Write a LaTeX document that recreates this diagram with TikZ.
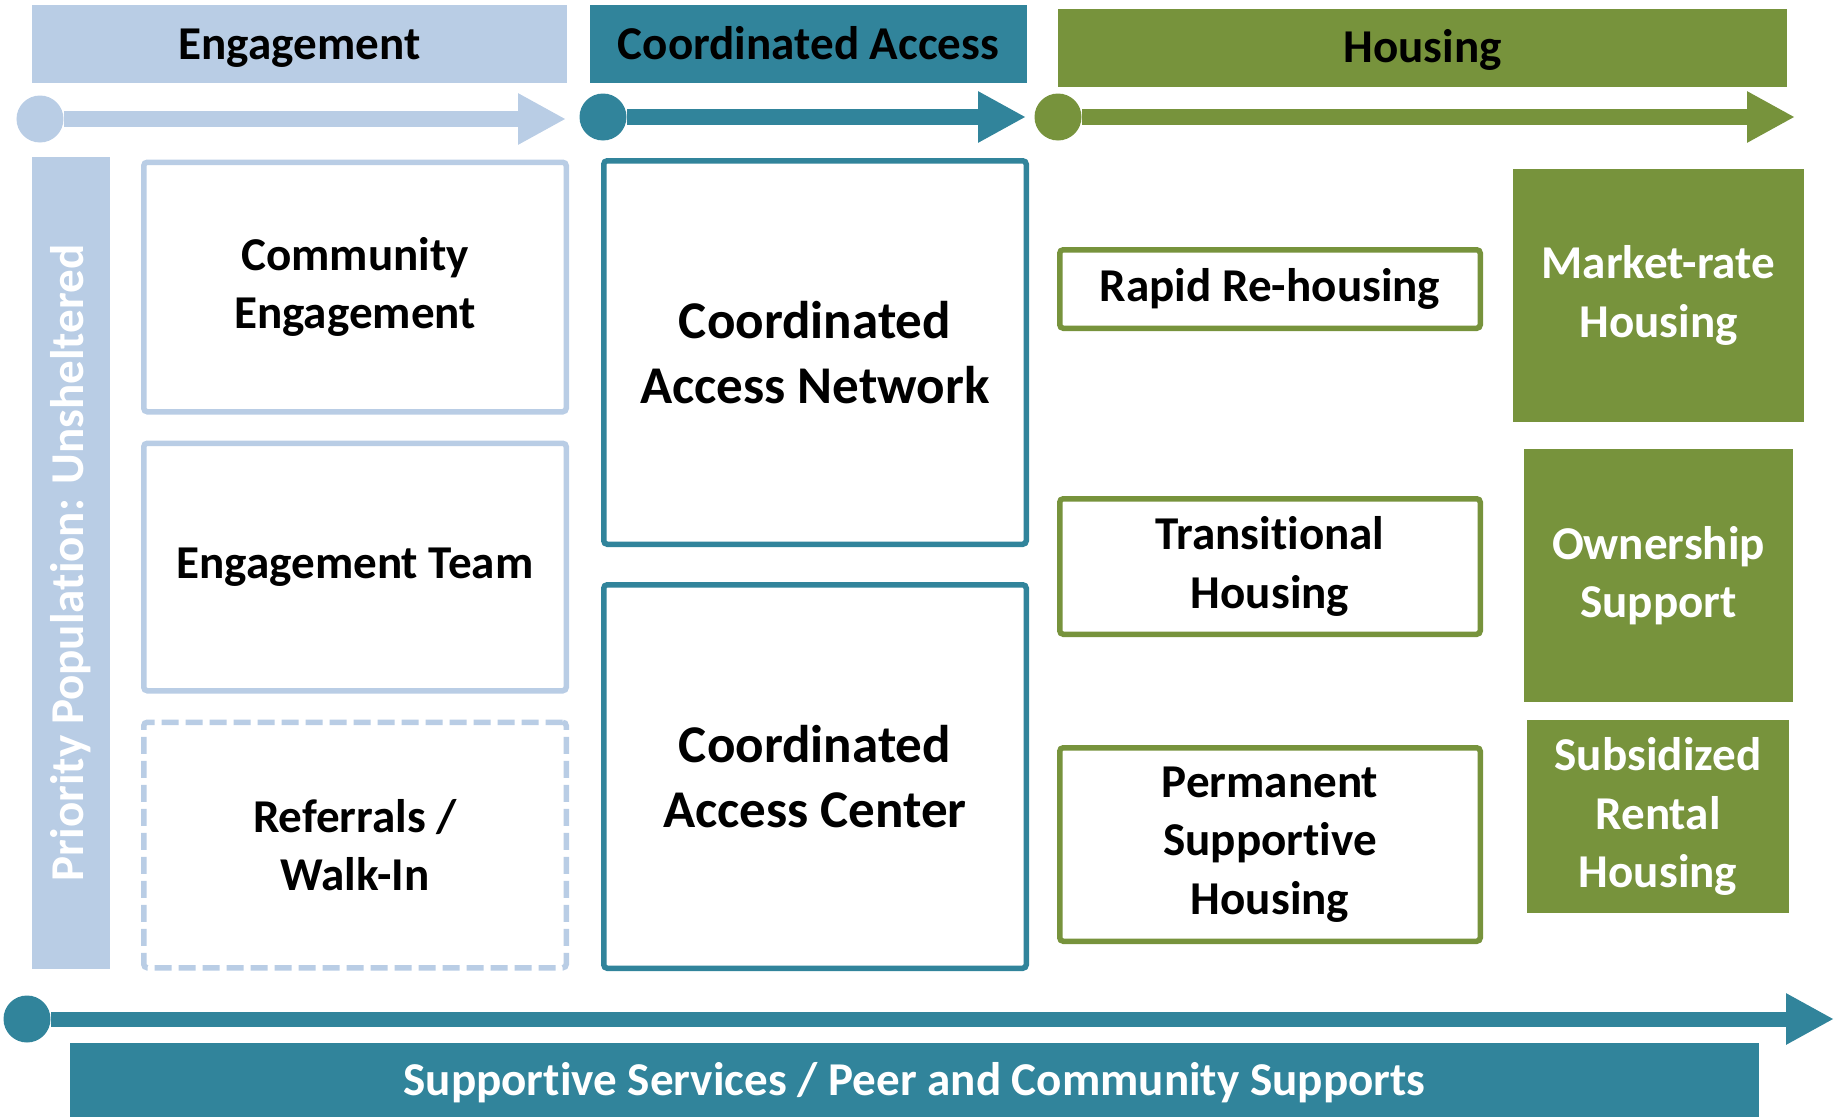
\documentclass[tikz,border=0pt]{standalone}
\usepackage{fontspec}
\setmainfont[Ligatures={NoCommon,NoContextual,NoRequired}, Contextuals=NoAlternate]{Carlito}
\usepackage{tikz}
\usetikzlibrary{
        positioning,
        arrows.meta
    }
\definecolor{engblue}{HTML}{B9CDE5}
\definecolor{accteal}{HTML}{31849B}
\definecolor{hougreen}{HTML}{77933C}

\begin{document}
\begin{tikzpicture}
[baseshape/.style={rectangle, inner sep=2pt, align=center, font=\bfseries\fontsize{13.4}{16.6}\selectfont},
header/.style={baseshape, minimum height=0.78cm, text height=0.38cm, text depth=0.08cm},
outline/.style={baseshape, draw, line width=0.055cm, rounded corners=1pt, fill=white},
engbox/.style={outline, draw=engblue, minimum width=4.225cm},
accbox/.style={outline, draw=accteal, minimum width=4.225cm, minimum height=3.835cm, font=\bfseries\fontsize{15.1}{18.4}\selectfont},
houbox/.style={outline, draw=hougreen, minimum width=4.205cm},
tenure/.style={baseshape, fill=hougreen, text=white},
phasedot/.style={circle, inner sep=0pt, minimum size=0.47cm},
phase/.style={line width=0.16cm, -{Triangle[length=0.48cm, width=0.48cm]}},]
\useasboundingbox (0,0) rectangle (18.41,-11.17);

% column headers
\node (hdr0) [header, fill=engblue, minimum width=5.35cm] at (2.995,-0.44) {Engagement};
\node (hdr1) [header, fill=accteal, minimum width=4.37cm] at (8.085,-0.44) {Coordinated Access};
\node (hdr2) [header, fill=hougreen, minimum width=7.29cm] at (14.225,-0.48) {Housing};

% phase arrows
\node (dot0) [phasedot, fill=engblue] at (0.40,-1.19) {};
\node (dot1) [phasedot, fill=accteal] at (6.03,-1.17) {};
\node (dot2) [phasedot, fill=hougreen] at (10.58,-1.17) {};
\coordinate (tip0) at (5.66,-1.19);
\coordinate (tip1) at (10.26,-1.17);
\coordinate (tip2) at (17.95,-1.17);
\draw[phase, engblue] (dot0) -- (tip0);
\draw[phase, accteal] (dot1) -- (tip1);
\draw[phase, hougreen] (dot2) -- (tip2);

\node (prio) [baseshape, fill=engblue, text=white, minimum width=8.12cm, minimum height=0.78cm, rotate=90] at (0.71,-5.63) {Priority Population: Unsheltered};

% engagement
\node (eng0) [engbox, minimum height=2.495cm] at (3.55,-2.87) {Community\\Engagement};
\node (eng1) [engbox, minimum height=2.475cm, below=0.26cm of eng0] {Engagement Team};
\node (eng2) [engbox, minimum height=2.455cm, below=0.26cm of eng1, dash pattern=on 0.17cm off 0.07cm] {Referrals /\\Walk-In};

% coordinated access
\node (acc0) [accbox] at (8.15,-3.525) {Coordinated\\Access Network};
\node (acc1) [accbox, below=0.35cm of acc0] {Coordinated\\Access Center};

% housing
\node (hou0) [houbox, minimum height=0.785cm] at (12.70,-2.89) {Rapid Re-housing};
\node (hou1) [houbox, minimum height=1.355cm, below=1.65cm of hou0] {Transitional\\Housing};
\node (hou2) [houbox, minimum height=1.935cm, below=1.08cm of hou1] {Permanent\\Supportive\\Housing};

\node (ten0) [tenure, minimum width=2.91cm, minimum height=2.53cm] at (16.585,-2.955) {Market-rate\\Housing};
\node (ten1) [tenure, minimum width=2.69cm, minimum height=2.53cm] at (16.585,-5.755) {Ownership\\Support};
\node (ten2) [tenure, minimum width=2.62cm, minimum height=1.93cm] at (16.58,-8.165) {Subsidized\\Rental\\Housing};

% supports along the whole path
\node (dot3) [phasedot, fill=accteal] at (0.27,-10.19) {};
\coordinate (tip3) at (18.34,-10.19);
\draw[phase, accteal, line width=0.15cm] (dot3) -- (tip3);
\node (supp) [header, fill=accteal, text=white, minimum width=16.89cm, minimum height=0.74cm] at (9.145,-10.80) {Supportive Services / Peer and Community Supports};

\end{tikzpicture}
\end{document}
